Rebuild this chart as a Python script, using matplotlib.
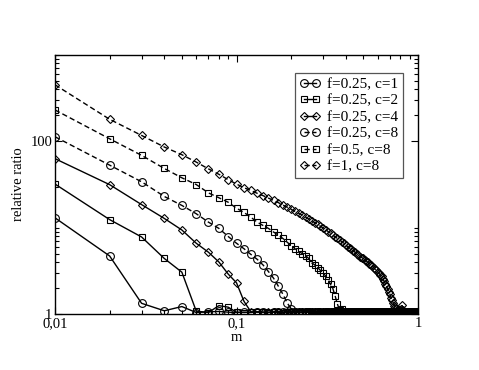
import matplotlib
matplotlib.use("Agg")
import matplotlib.pyplot as plt
from matplotlib.ticker import FixedLocator, FixedFormatter, NullFormatter

plt.rcParams['font.family'] = ['Liberation Serif', 'DejaVu Serif']

m = [0.01, 0.02, 0.03, 0.04, 0.05, 0.06, 0.07, 0.08, 0.09, 0.10,
     0.11, 0.12, 0.13, 0.14, 0.15, 0.16, 0.17, 0.18, 0.19, 0.20,
     0.21, 0.22, 0.23, 0.24, 0.25, 0.26, 0.27, 0.28, 0.29, 0.30,
     0.31, 0.32, 0.33, 0.34, 0.35, 0.36, 0.37, 0.38, 0.39, 0.40,
     0.41, 0.42, 0.43, 0.44, 0.45, 0.46, 0.47, 0.48, 0.49, 0.50,
     0.51, 0.52, 0.53, 0.54, 0.55, 0.56, 0.57, 0.58, 0.59, 0.60,
     0.61, 0.62, 0.63, 0.64, 0.65, 0.66, 0.67, 0.68, 0.69, 0.70,
     0.71, 0.72, 0.73, 0.74, 0.75, 0.76, 0.77, 0.78, 0.79, 0.80,
     0.81, 0.82, 0.83, 0.84, 0.85, 0.86, 0.87, 0.88, 0.89, 0.90,
     0.91, 0.92, 0.93, 0.94, 0.95, 0.96, 0.97, 0.98, 0.99]

f025_c1 = [13.0, 4.7, 1.33, 1.09, 1.22, 1.04, 1.06, 1.07, 1.05, 1.04,
           1.05, 1.04, 1.06, 1.05, 1.04, 1.05, 1.06, 1.05, 1.04, 1.05,
           1.05, 1.04, 1.05, 1.06, 1.05, 1.04, 1.05, 1.05, 1.04, 1.05,
           1.06, 1.05, 1.04, 1.05, 1.05, 1.04, 1.05, 1.06, 1.05, 1.04,
           1.05, 1.05, 1.04, 1.05, 1.06, 1.05, 1.04, 1.05, 1.05, 1.04,
           1.05, 1.06, 1.05, 1.04, 1.05, 1.05, 1.04, 1.05, 1.06, 1.05,
           1.04, 1.05, 1.05, 1.04, 1.05, 1.06, 1.05, 1.04, 1.05, 1.05,
           1.04, 1.05, 1.06, 1.05, 1.04, 1.05, 1.05, 1.04, 1.05, 1.06,
           1.05, 1.04, 1.05, 1.05, 1.04, 1.05, 1.06, 1.05, 1.04, 1.05,
           1.05, 1.04, 1.05, 1.06, 1.05, 1.04, 1.05, 1.05, 1.04]

f025_c2 = [32.0, 12.4, 7.8, 4.4, 3.05, 1.08, 1.04, 1.25, 1.2, 1.05,
           1.04, 1.05, 1.06, 1.05, 1.04, 1.05, 1.05, 1.04, 1.05, 1.06,
           1.05, 1.04, 1.05, 1.05, 1.04, 1.05, 1.06, 1.05, 1.04, 1.05,
           1.05, 1.04, 1.05, 1.06, 1.05, 1.04, 1.05, 1.05, 1.04, 1.05,
           1.06, 1.05, 1.04, 1.05, 1.05, 1.04, 1.05, 1.06, 1.05, 1.04,
           1.05, 1.05, 1.04, 1.05, 1.06, 1.05, 1.04, 1.05, 1.05, 1.04,
           1.05, 1.06, 1.05, 1.04, 1.05, 1.05, 1.04, 1.05, 1.06, 1.05,
           1.04, 1.05, 1.05, 1.04, 1.05, 1.06, 1.05, 1.04, 1.05, 1.05,
           1.04, 1.05, 1.06, 1.05, 1.04, 1.05, 1.05, 1.04, 1.05, 1.06,
           1.05, 1.04, 1.05, 1.05, 1.04, 1.05, 1.06, 1.05, 1.04]

f025_c4 = [63.0, 31.5, 18.5, 12.8, 9.4, 6.6, 5.2, 4.0, 2.9, 2.3,
           1.4, 1.06, 1.05, 1.04, 1.05, 1.06, 1.05, 1.04, 1.05, 1.05,
           1.04, 1.05, 1.06, 1.05, 1.04, 1.05, 1.05, 1.04, 1.05, 1.06,
           1.05, 1.04, 1.05, 1.05, 1.04, 1.05, 1.06, 1.05, 1.04, 1.05,
           1.05, 1.04, 1.05, 1.06, 1.05, 1.04, 1.05, 1.05, 1.04, 1.05,
           1.06, 1.05, 1.04, 1.05, 1.05, 1.04, 1.05, 1.06, 1.05, 1.04,
           1.05, 1.05, 1.04, 1.05, 1.06, 1.05, 1.04, 1.05, 1.05, 1.04,
           1.05, 1.06, 1.05, 1.04, 1.05, 1.05, 1.04, 1.05, 1.06, 1.05,
           1.04, 1.05, 1.05, 1.04, 1.05, 1.06, 1.05, 1.04, 1.05, 1.05,
           1.04, 1.05, 1.06, 1.05, 1.04, 1.05, 1.05, 1.04, 1.05]

f025_c8 = [113.0, 53.0, 34.0, 23.0, 18.1, 14.5, 11.6, 9.8, 7.9, 6.6,
           5.7, 4.9, 4.3, 3.7, 3.1, 2.6, 2.1, 1.7, 1.35, 1.15,
           1.06, 1.05, 1.04, 1.05, 1.06, 1.05, 1.04, 1.05, 1.05, 1.04,
           1.05, 1.06, 1.05, 1.04, 1.05, 1.05, 1.04, 1.05, 1.06, 1.05,
           1.04, 1.05, 1.05, 1.04, 1.05, 1.06, 1.05, 1.04, 1.05, 1.05,
           1.04, 1.05, 1.06, 1.05, 1.04, 1.05, 1.05, 1.04, 1.05, 1.06,
           1.05, 1.04, 1.05, 1.05, 1.04, 1.05, 1.06, 1.05, 1.04, 1.05,
           1.05, 1.04, 1.05, 1.06, 1.05, 1.04, 1.05, 1.05, 1.04, 1.05,
           1.06, 1.05, 1.04, 1.05, 1.05, 1.04, 1.05, 1.06, 1.05, 1.04,
           1.05, 1.05, 1.04, 1.05, 1.06, 1.05, 1.04, 1.05, 1.05]

f05_c8 = [231.0, 107.0, 68.8, 48.5, 37.8, 31.6, 25.3, 22.2, 19.7, 16.8,
          15.0, 13.2, 11.6, 10.6, 9.8, 8.9, 8.2, 7.5, 6.8, 6.2,
          5.7, 5.35, 5.0, 4.75, 4.4, 3.9, 3.7, 3.45, 3.2, 3.0,
          2.75, 2.5, 2.2, 1.95, 1.6, 1.3, 1.1, 1.15, 1.05, 1.04,
          1.05, 1.06, 1.05, 1.04, 1.05, 1.05, 1.04, 1.05, 1.06, 1.05,
          1.04, 1.05, 1.05, 1.04, 1.05, 1.06, 1.05, 1.04, 1.05, 1.05,
          1.04, 1.05, 1.06, 1.05, 1.04, 1.05, 1.05, 1.04, 1.05, 1.06,
          1.05, 1.04, 1.05, 1.05, 1.04, 1.05, 1.06, 1.05, 1.04, 1.05,
          1.05, 1.04, 1.05, 1.06, 1.05, 1.04, 1.05, 1.05, 1.04, 1.05,
          1.06, 1.05, 1.04, 1.05, 1.05, 1.04, 1.05, 1.06, 1.05]

f1_c8 = [452.0, 180.0, 117.0, 86.0, 70.0, 57.5, 48.0, 41.5, 36.0, 32.0,
         29.0, 27.0, 25.0, 23.5, 22.0, 20.7, 19.5, 18.3, 17.3, 16.3,
         15.4, 14.7, 14.0, 13.3, 12.6, 12.0, 11.4, 10.9, 10.4, 9.9,
         9.5, 9.0, 8.6, 8.2, 7.8, 7.5, 7.2, 6.9, 6.6, 6.3,
         6.0, 5.8, 5.6, 5.4, 5.2, 5.0, 4.8, 4.6, 4.5, 4.4,
         4.25, 4.1, 3.95, 3.8, 3.7, 3.6, 3.45, 3.3, 3.2, 3.05,
         2.95, 2.85, 2.75, 2.55, 2.4, 2.25, 2.1, 1.95, 1.8, 1.7,
         1.55, 1.45, 1.35, 1.25, 1.2, 1.15, 1.1, 1.05, 1.03, 1.05,
         1.15, 1.27, 1.1, 1.04, 1.05, 1.06, 1.05, 1.04, 1.05, 1.05,
         1.04, 1.05, 1.06, 1.05, 1.04, 1.05, 1.05, 1.04, 1.05]

labels = ["f=0.25, c=1", "f=0.25, c=2", "f=0.25, c=4",
          "f=0.25, c=8", "f=0.5, c=8", "f=1, c=8"]
series = [f025_c1, f025_c2, f025_c4, f025_c8, f05_c8, f1_c8]
markers = ["o", "s", "D", "o", "s", "D"]
styles = ["solid", "solid", "solid", "dashed", "dashed", "dashed"]

x_major = [0.01, 0.1, 1]
x_major_labels = ["0,01", "0,1", "1"]
y_major = [1, 100]
y_major_labels = ["1", "100"]

fig = plt.figure(figsize=(4.79, 3.70), dpi=100)
ax = fig.add_axes([55/479, 56/370, 363/479, 259/370])

msizes = {"o": 5.6, "s": 5.0, "D": 4.4}
for y, lab, mk, ls in zip(series, labels, markers, styles):
    line, = ax.plot(m, y, marker=mk, linestyle=ls, color="black", lw=1.0,
                    markersize=msizes[mk], markerfacecolor="none",
                    markeredgecolor="black", markeredgewidth=0.8, label=lab)
    if ls == "dashed":
        line.set_dashes((3.8, 2.2))

ax.set_xscale("log")
ax.set_yscale("log")
ax.set_xlim(0.01, 1)
ax.set_ylim(1, 1000)

ax.xaxis.set_major_locator(FixedLocator(x_major))
ax.xaxis.set_major_formatter(FixedFormatter(x_major_labels))
xminor = [k * d for d in (0.01, 0.1) for k in range(2, 10)]
ax.xaxis.set_minor_locator(FixedLocator(xminor))
ax.xaxis.set_minor_formatter(NullFormatter())

ax.yaxis.set_major_locator(FixedLocator(y_major))
ax.yaxis.set_major_formatter(FixedFormatter(y_major_labels))
yminor = [k for k in range(2, 11)] + [k * 100 for k in range(2, 11)]
ax.yaxis.set_minor_locator(FixedLocator(yminor))
ax.yaxis.set_minor_formatter(NullFormatter())

ax.tick_params(which="both", direction="in", top=True, right=True,
               labelsize=10.5, width=0.8, pad=2)
ax.tick_params(which="major", length=5)
ax.tick_params(which="minor", length=3.2)
for sp in ax.spines.values():
    sp.set_linewidth(1.0)

ax.set_xlabel("m", fontsize=10.5, labelpad=1)
ax.set_ylabel("relative ratio", fontsize=10.5, labelpad=4)

leg = ax.legend(loc="upper left", bbox_to_anchor=(0.661, 0.931),
                borderaxespad=0, fontsize=11, numpoints=2,
                handlelength=1.4, handletextpad=0.4, labelspacing=0.18,
                borderpad=0.3, fancybox=False, framealpha=1)
leg.get_frame().set_edgecolor("#555555")
leg.get_frame().set_linewidth(0.9)

fig.savefig("out.png", dpi=100)
